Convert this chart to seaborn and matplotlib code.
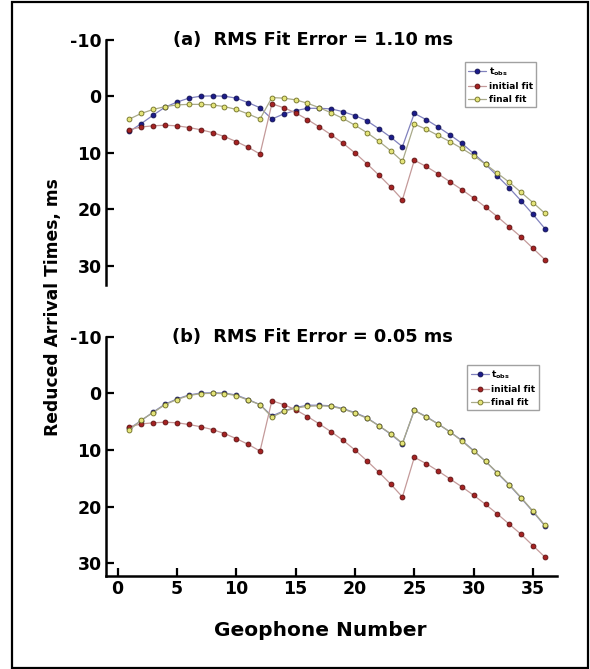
import numpy as np
import matplotlib
matplotlib.use("Agg")
import matplotlib.pyplot as plt
from matplotlib.patches import Rectangle
import seaborn as sns

sns.set_theme(style="ticks")
plt.rcParams['font.family'] = ['DejaVu Sans']
plt.rcParams['font.weight'] = 'bold'
plt.rcParams['text.color'] = 'black'
plt.rcParams['axes.labelcolor'] = 'black'
plt.rcParams['xtick.color'] = 'black'
plt.rcParams['ytick.color'] = 'black'
plt.rcParams['axes.edgecolor'] = 'black'
plt.rcParams['axes.unicode_minus'] = False
plt.rcParams['mathtext.fontset'] = 'dejavusans'

#==============================================
# Data (reduced arrival times, ms)
#==============================================
geophone = np.arange(1, 37)

t_obs = [6.2, 4.8, 3.3, 1.9, 1.0, 0.3, -0.05, -0.1, -0.05, 0.3, 1.1, 2.0,
         4.0, 3.1, 2.5, 2.1, 2.1, 2.2, 2.7, 3.4, 4.3, 5.7, 7.2, 8.9,
         3.0, 4.1, 5.4, 6.8, 8.3, 10.1, 12.0, 14.1, 16.2, 18.5, 20.9, 23.4]

initial_fit = [5.9, 5.4, 5.2, 5.1, 5.2, 5.5, 5.9, 6.4, 7.1, 8.0, 9.0, 10.2,
               1.3, 2.0, 2.9, 4.1, 5.4, 6.8, 8.3, 10.0, 11.9, 13.9, 16.0, 18.3,
               11.3, 12.4, 13.7, 15.1, 16.5, 18.0, 19.6, 21.3, 23.1, 24.9, 26.9, 28.9]

final_fit_a = [4.0, 3.0, 2.3, 1.8, 1.5, 1.4, 1.4, 1.5, 1.8, 2.3, 3.1, 4.0,
               0.2, 0.3, 0.6, 1.2, 2.0, 2.9, 3.9, 5.1, 6.4, 7.9, 9.6, 11.5,
               4.9, 5.8, 6.9, 8.0, 9.2, 10.5, 12.0, 13.6, 15.2, 17.0, 18.8, 20.7]

final_fit_b = [6.5, 4.7, 3.4, 2.0, 1.1, 0.4, 0.05, 0.0, 0.05, 0.4, 1.2, 2.0,
               4.2, 3.2, 2.6, 2.3, 2.2, 2.3, 2.8, 3.5, 4.4, 5.7, 7.1, 8.8,
               3.0, 4.2, 5.4, 6.8, 8.4, 10.2, 12.0, 14.0, 16.1, 18.4, 20.8, 23.3]

titles = ["(a)  RMS Fit Error = 1.10 ms", "(b)  RMS Fit Error = 0.05 ms"]
labels = [r"$\mathbf{t_{obs}}$", "initial fit", "final fit"]
yticks = [-10, 0, 10, 20, 30]
xticks = [0, 5, 10, 15, 20, 25, 30, 35]

# series styles: (line colour, marker face, marker edge)
styles = [("#8081bd", "#1c1c8a", "#101050"),
          ("#c49a9a", "#a52222", "#5a1010"),
          ("#a9aa8a", "#e4e47a", "#6e6e22")]

#==============================================
# Figure
#==============================================
fig = plt.figure(figsize=(5.9, 6.69), dpi=100)
ax1 = fig.add_axes([0.1792, 0.574, 0.7644, 0.3662])
ax2 = fig.add_axes([0.1792, 0.1395, 0.7644, 0.3572])

panels = [(ax1, final_fit_a, 33.4, (0.797, 0.91)),
          (ax2, final_fit_b, 32.2, (0.802, 0.88))]

for i, (ax, final_fit, ybot, leg_pos) in enumerate(panels):
    for series, lab, (lc, fc, ec) in zip([t_obs, initial_fit, final_fit], labels, styles):
        sns.lineplot(x=geophone, y=series, ax=ax, color=lc, lw=0.9,
                     marker='o', markersize=3.5, markerfacecolor=fc,
                     markeredgecolor=ec, markeredgewidth=0.6, label=lab)
    ax.set_ylim(ybot, -10)
    ax.set_xlim(-1, 37)
    ax.set_yticks(yticks)
    ax.tick_params(axis='both', direction='in', length=6, width=1.6,
                   labelsize=12.5, pad=3, colors='black')
    for lbl in ax.get_yticklabels() + ax.get_xticklabels():
        lbl.set_fontweight('bold')
    ax.spines['left'].set_linewidth(1.8)
    ax.spines['bottom'].set_linewidth(1.8)
    sns.despine(ax=ax, top=True, right=True, bottom=(i == 0))
    ax.text(16.45, -10, titles[i], ha='center', va='center',
            fontsize=12.8, fontweight='bold', color='black')
    ax.set_xlabel("")
    ax.set_ylabel("")
    leg = ax.legend(loc='upper left', bbox_to_anchor=leg_pos, fontsize=6.5,
                    frameon=True, fancybox=False, handlelength=2.0,
                    handletextpad=0.3, borderpad=0.35, labelspacing=0.45,
                    borderaxespad=0)
    leg.get_frame().set_edgecolor('#8a8a8a')
    leg.get_frame().set_linewidth(1.0)
    for t in leg.get_texts():
        t.set_fontweight('bold')
        t.set_color('black')

ax1.set_xticks([])
ax2.set_xticks(xticks)
ax2.set_xticklabels([str(x) for x in xticks], fontweight='bold')

fig.text(0.09, 0.541, "Reduced Arrival Times, ms", rotation=90, ha='center',
         va='center', fontsize=12.3, fontweight='bold', color='black')
fig.text(0.543, 0.058, "Geophone Number", ha='center', va='center',
         fontsize=14.5, fontweight='bold', color='black')

# outer frame
fig.patches.append(Rectangle((12 / 590, 1.5 / 669), 576 / 590, 665.5 / 669,
                             transform=fig.transFigure, fill=False,
                             edgecolor='black', linewidth=1.6))

plt.savefig("out.png", dpi=100)
plt.close()
